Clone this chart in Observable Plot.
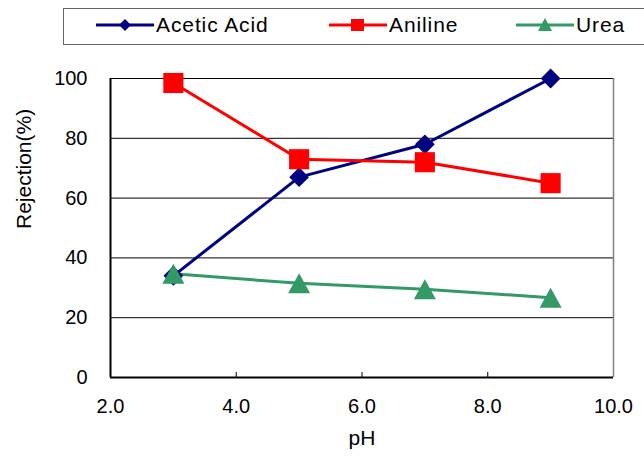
<!DOCTYPE html>
<html>
<head>
<meta charset="utf-8">
<script src="https://cdn.jsdelivr.net/npm/d3@7"></script>
<script src="https://cdn.jsdelivr.net/npm/@observablehq/plot@0.6"></script>
<style>
  body { margin: 0; background: #fff; font-family: "Liberation Sans", Arial, sans-serif; }
  #wrap { position: relative; width: 644px; height: 459px; overflow: hidden; }
  #legend { position: relative; width: 644px; height: 50px; }
  #legend .box { position: absolute; left: 63px; top: 8px; width: 620px; height: 35px; border: 1px solid #666; border-right: none; }
  #legend .item { position: absolute; top: 12px; height: 26px; display: flex; align-items: center; font-size: 21px; letter-spacing: 0.9px; color: #000; }
  #legend svg { display: block; margin-right: 2px; }
</style>
</head>
<body>
<div id="wrap">
  <div id="legend"><div class="box"></div></div>
  <div id="chart"></div>
</div>
<script>
const pH = [3, 5, 7, 9];
const aceticAcid = [34, 67, 78, 100];
const aniline = [98.5, 73, 72, 65];
const urea = [34.7, 31.5, 29.5, 26.7];
const seriesNames = ["Acetic Acid", "Aniline", "Urea"];
const seriesColors = ["#000080", "#ff0000", "#339966"];
const xTicks = [2, 4, 6, 8, 10];
const yTicks = [0, 20, 40, 60, 80, 100];

const triangleSym = {
  draw(ctx, size) {
    const r = Math.sqrt(size / Math.PI);
    const w = 2.1 * r, h = 1.9 * r;
    ctx.moveTo(0, -h / 2);
    ctx.lineTo(w / 2, h / 2);
    ctx.lineTo(-w / 2, h / 2);
    ctx.closePath();
  }
};
const diamondSym = {
  draw(ctx, size) {
    const r = Math.sqrt(size / Math.PI);
    const d = 1.1 * r;
    ctx.moveTo(0, -d);
    ctx.lineTo(d, 0);
    ctx.lineTo(0, d);
    ctx.lineTo(-d, 0);
    ctx.closePath();
  }
};
const squareSym = {
  draw(ctx, size) {
    const r = Math.sqrt(size / Math.PI);
    const s = 0.89 * r;
    ctx.rect(-s, -s, 2 * s, 2 * s);
  }
};
const symbols = [diamondSym, squareSym, triangleSym];
const radii = [9, 11.3, 10.5];

const seriesValues = [aceticAcid, aniline, urea];
const rows = [];
seriesNames.forEach((name, i) => {
  pH.forEach((x, j) => rows.push({series: name, pH: x, value: seriesValues[i][j], idx: i}));
});

// Legend
const legendPos = [96, 329, 516];
const legend = document.getElementById("legend");
seriesNames.forEach((name, i) => {
  const item = document.createElement("div");
  item.className = "item";
  item.style.left = legendPos[i] + "px";
  const c = seriesColors[i];
  let marker;
  if (i === 0) marker = `<path d="M29,3 L35,9 L29,15 L23,9 Z" fill="${c}"/>`;
  else if (i === 1) marker = `<rect x="22" y="3" width="13" height="12" fill="${c}"/>`;
  else marker = `<path d="M29,2 L36,15 L22,15 Z" fill="${c}"/>`;
  item.innerHTML = `<svg width="58" height="18"><line x1="0" x2="58" y1="9" y2="9" stroke="${c}" stroke-width="3"/>${marker}</svg><span>${name}</span>`;
  legend.appendChild(item);
});

const chart = Plot.plot({
  width: 644,
  height: 409,
  marginTop: 28,
  marginBottom: 82,
  marginLeft: 110,
  marginRight: 31,
  style: {fontFamily: "Liberation Sans, Arial, sans-serif", fontSize: "19px", color: "#000", background: "#fff"},
  x: {domain: [2, 10], ticks: xTicks},
  y: {domain: [0, 100], ticks: yTicks},
  marks: [
    Plot.gridY(yTicks.filter(d => d > 0), {stroke: "#000", strokeOpacity: 1, strokeWidth: 1}),
    Plot.ruleX([10], {stroke: "#808080", strokeWidth: 1.5}),
    Plot.axisX(xTicks, {tickSize: 0, tickPadding: 21, tickFormat: d3.format(".1f"), label: null, fontSize: 20}),
    Plot.axisX([4, 6, 8], {tickSize: -5, text: null, label: null, stroke: "#000"}),
    Plot.axisY(yTicks, {tickSize: 0, tickPadding: 23, label: null, fontSize: 20}),
    Plot.ruleX([2], {stroke: "#000", strokeWidth: 2}),
    Plot.ruleY([0], {stroke: "#000", strokeWidth: 2}),
    ...seriesNames.map((name, i) => Plot.line(rows.filter(r => r.idx === i), {x: "pH", y: "value", stroke: seriesColors[i], strokeWidth: 3})),
    ...seriesNames.map((name, i) => Plot.dot(rows.filter(r => r.idx === i), {x: "pH", y: "value", symbol: () => symbols[i], r: radii[i], fill: seriesColors[i], stroke: "none"})),
    Plot.text(["pH"], {frameAnchor: "bottom", dy: 67, fontSize: 21, text: d => d}),
    Plot.text(["Rejection(%)"], {frameAnchor: "left", dx: -86, dy: 1, rotate: -90, fontSize: 21, text: d => d, style: {letterSpacing: "0.8px"}})
  ]
});
document.getElementById("chart").appendChild(chart);
</script>
</body>
</html>
